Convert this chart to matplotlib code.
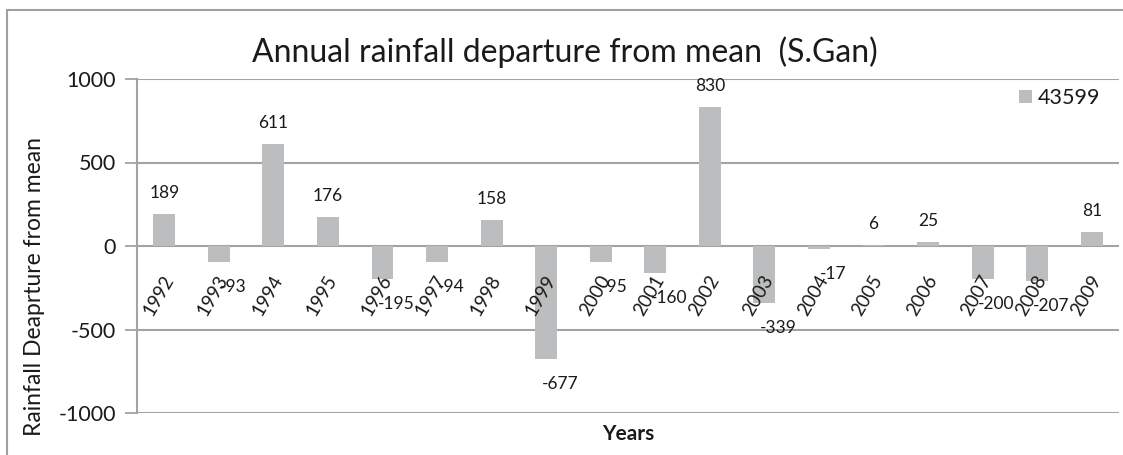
import matplotlib
matplotlib.use("Agg")
import matplotlib.pyplot as plt
from matplotlib.patches import Rectangle

years = ["1992", "1993", "1994", "1995", "1996", "1997", "1998", "1999", "2000",
         "2001", "2002", "2003", "2004", "2005", "2006", "2007", "2008", "2009"]
departure = [189, -93, 611, 176, -195, -94, 158, -677, -95,
             -160, 830, -339, -17, 6, 25, -200, -207, 81]
series_name = "43599"
yticks = [-1000, -500, 0, 500, 1000]

plt.rcParams['font.family'] = ['Lato', 'DejaVu Sans']

W, H = 1123, 455
fig = plt.figure(figsize=(W / 100, H / 100), dpi=100)
ax = fig.add_axes([137 / W, 1 - 413 / H, (1119 - 137) / W, (413 - 79) / H])

bar_color = '#BCBDBF'
grid_color = '#A3A3A3'
text_color = '#1a1a1a'

x = list(range(len(years)))
ax.bar(x, departure, width=0.4, color=bar_color, label=series_name, zorder=2)

ax.set_xlim(-0.5, len(years) - 0.5)
ax.set_ylim(-1000, 1000)
ax.set_yticks(yticks)
ax.set_yticklabels([str(t) for t in yticks], fontsize=15.5, color=text_color)
ax.tick_params(axis='y', length=9, width=1.3, color=grid_color, pad=6)
ax.set_xticks([])
ax.yaxis.grid(True, color=grid_color, linewidth=1.5, zorder=0)
ax.set_axisbelow(True)
for s in ['top', 'right', 'bottom']:
    ax.spines[s].set_visible(False)
ax.spines['left'].set_color(grid_color)
ax.spines['left'].set_linewidth(1.5)

# category labels along the zero line
for i, yr in enumerate(years):
    ax.annotate(yr, (i, 0), xytext=(-6, -26), textcoords='offset pixels',
                rotation=60, ha='center', va='top', fontsize=13.5, color=text_color)

# data labels
for i, v in enumerate(departure):
    if v >= 0:
        ax.annotate(str(v), (i, v), xytext=(0, 21), textcoords='offset pixels',
                    ha='center', va='center', fontsize=12.5, color=text_color)
    else:
        ax.annotate(str(v), (i, v), xytext=(14, -25), textcoords='offset pixels',
                    ha='center', va='center', fontsize=12.5, color=text_color)

leg = ax.legend(loc='center left', bbox_to_anchor=(1008 / W, 1 - 98 / H),
                bbox_transform=fig.transFigure, frameon=False, fontsize=15.5,
                handlelength=0.6, handleheight=0.6, handletextpad=0.3, borderpad=0)
for t in leg.get_texts():
    t.set_color(text_color)

fig.text(565 / W, 1 - 52 / H, "Annual rainfall departure from mean  (S.Gan)",
         ha='center', va='center', fontsize=23, color=text_color)
fig.text(35 / W, 1 - 287 / H, "Rainfall Deaprture from mean", rotation=90,
         ha='center', va='center', fontsize=16.5, color=text_color)
fig.text(628 / W, 1 - 434 / H, "Years", ha='center', va='center',
         fontsize=15, fontweight='bold', color=text_color)

fig.add_artist(Rectangle((7 / W, -0.1), 1.2, (1 - 10 / H) + 0.1,
                         transform=fig.transFigure, fill=False,
                         edgecolor='#A0A0A0', linewidth=1.5))

fig.savefig("out.png", dpi=100)
